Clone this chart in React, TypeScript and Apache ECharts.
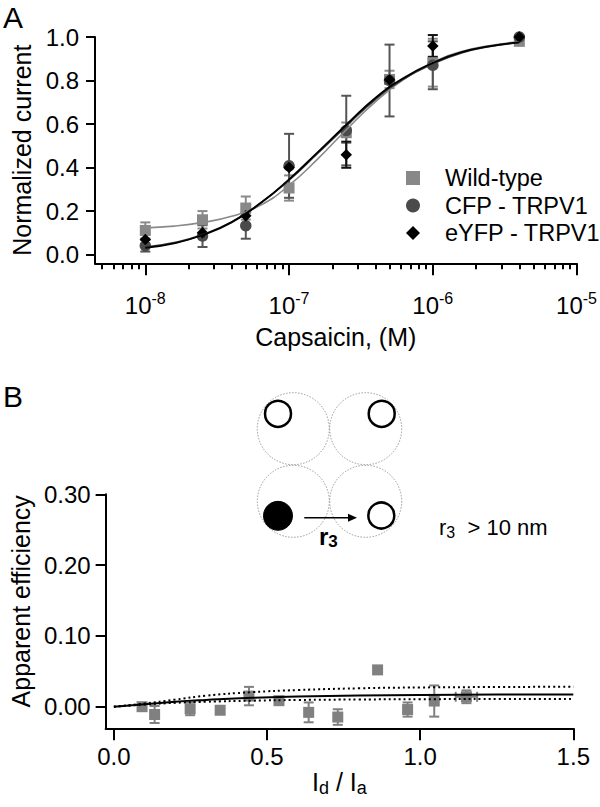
import React, { useEffect, useRef } from 'react';
import * as echarts from 'echarts';

// ---------- Panel A data ----------
const concentrations = [1e-8, 2.5e-8, 5e-8, 1e-7, 2.5e-7, 5e-7, 1e-6, 4e-6];
const wildMean = [0.111, 0.16, 0.214, 0.306, 0.56, 0.805, 0.882, 0.98];
const wildErr = [0.037, 0.04, 0.053, 0.058, 0.047, 0.04, 0.11, 0];
const cfpMean = [0.041, 0.085, 0.133, 0.408, 0.57, 0.8, 0.87, 1.0];
const cfpErr = [0.027, 0.05, 0.06, 0.147, 0.16, 0.165, 0.11, 0];
const eyfpMean = [0.069, 0.1, 0.179, 0.4, 0.459, 0.803, 0.959, 1.0];
const eyfpErr = [0, 0, 0, 0, 0.06, 0, 0.05, 0];

// fitted curves (log10 concentration)
const fitLogX = [-8, -7.8, -7.6, -7.4, -7.2, -7.0, -6.8, -6.6, -6.4, -6.2, -6.0, -5.8, -5.6, -5.4];
const fitWild = [0.123, 0.131, 0.148, 0.176, 0.226, 0.318, 0.44, 0.575, 0.702, 0.806, 0.883, 0.933, 0.961, 0.978];
const fitCfp = [0.034, 0.055, 0.092, 0.15, 0.236, 0.342, 0.466, 0.592, 0.713, 0.808, 0.877, 0.927, 0.957, 0.974];
const fitEyfp = [0.031, 0.052, 0.09, 0.148, 0.236, 0.346, 0.471, 0.598, 0.72, 0.813, 0.881, 0.93, 0.958, 0.975];

const majorTicksA = [-8, -7, -6, -5];
const minorTicksA = [
  Math.log10(5e-9), Math.log10(6e-9), Math.log10(7e-9), Math.log10(8e-9), Math.log10(9e-9),
  Math.log10(2e-8), Math.log10(3e-8), Math.log10(4e-8), Math.log10(5e-8), Math.log10(6e-8), Math.log10(7e-8), Math.log10(8e-8), Math.log10(9e-8),
  Math.log10(2e-7), Math.log10(3e-7), Math.log10(4e-7), Math.log10(5e-7), Math.log10(6e-7), Math.log10(7e-7), Math.log10(8e-7), Math.log10(9e-7),
  Math.log10(2e-6), Math.log10(3e-6), Math.log10(4e-6), Math.log10(5e-6), Math.log10(6e-6), Math.log10(7e-6), Math.log10(8e-6), Math.log10(9e-6),
];
const yTicksA = [0, 0.2, 0.4, 0.6, 0.8, 1.0];

// ---------- Panel B data ----------
const ratioB = [0.092, 0.133, 0.249, 0.347, 0.441, 0.539, 0.636, 0.731, 0.861, 0.959, 1.046, 1.151];
const effB = [0.0, -0.011, -0.003, -0.005, 0.015, 0.0085, -0.008, -0.0146, 0.052, -0.004, 0.008, 0.014];
const effErrB = [0, 0.012, 0.009, 0, 0.013, 0, 0.014, 0.011, 0, 0.01, 0.022, 0.009];
const ratioErrB = [0, 0, 0, 0, 0, 0, 0, 0, 0, 0, 0, 0.035];

const fitXB = [0, 0.1, 0.2, 0.3, 0.45, 0.6, 0.8, 1.0, 1.25, 1.5];
const fitMidB = [0, 0.0035, 0.007, 0.0095, 0.0125, 0.0143, 0.0158, 0.0166, 0.0171, 0.0174];
const fitUpB = [0, 0.0045, 0.01, 0.0155, 0.0205, 0.0235, 0.026, 0.0272, 0.0278, 0.0282];
const fitLowB = [0, 0.003, 0.0055, 0.007, 0.0085, 0.0095, 0.0102, 0.0106, 0.0109, 0.011];

const xTicksB = [0, 0.5, 1.0, 1.5];
const yTicksB = [0, 0.1, 0.2, 0.3];

const FONT = '"Liberation Sans", Arial, Helvetica, sans-serif';

function errRender(color: string, cap: number) {
  return (params: any, api: any) => {
    const x = api.value(0);
    const y = api.value(1);
    const ey = api.value(2);
    const ex = api.value(3) || 0;
    const children: any[] = [];
    const st = { stroke: color, lineWidth: 2 };
    if (ey) {
      const t = api.coord([x, y + ey]);
      const b = api.coord([x, y - ey]);
      children.push({ type: 'line', shape: { x1: t[0], y1: t[1], x2: b[0], y2: b[1] }, style: st });
      children.push({ type: 'line', shape: { x1: t[0] - cap, y1: t[1], x2: t[0] + cap, y2: t[1] }, style: st });
      children.push({ type: 'line', shape: { x1: b[0] - cap, y1: b[1], x2: b[0] + cap, y2: b[1] }, style: st });
    }
    if (ex) {
      const l = api.coord([x - ex, y]);
      const r = api.coord([x + ex, y]);
      children.push({ type: 'line', shape: { x1: l[0], y1: l[1], x2: r[0], y2: r[1] }, style: st });
      children.push({ type: 'line', shape: { x1: l[0], y1: l[1] - cap, x2: l[0], y2: l[1] + cap }, style: st });
      children.push({ type: 'line', shape: { x1: r[0], y1: r[1] - cap, x2: r[0], y2: r[1] + cap }, style: st });
    }
    return { type: 'group', children };
  };
}

const axisLineStyle = { color: '#000', width: 2 };

export default function App() {
  const ref = useRef<HTMLDivElement>(null);
  useEffect(() => {
    document.body.style.margin = '0';
    const chart = echarts.init(ref.current!, null, { renderer: 'svg' });
    const lx = concentrations.map((c) => Math.log10(c));
    const fitLine = (name: string, xi: number, yi: number, xs: number[], ys: number[], color: string, width: number, type: any = 'solid') => ({
      type: 'line', name, xAxisIndex: xi, yAxisIndex: yi, smooth: true, showSymbol: false, z: 4,
      lineStyle: { color, width, type },
      data: xs.map((x, i) => [x, ys[i]]),
    });
    const option: any = {
      animation: false,
      backgroundColor: '#fff',
      textStyle: { fontFamily: FONT },
      grid: [
        { left: 95, top: 37, right: 20, bottom: 543.7 },
        { left: 103.3, top: 494.3, right: 26.7, bottom: 78.7 },
      ],
      xAxis: [
        {
          gridIndex: 0, type: 'value', min: -8.35, max: -5, position: 'bottom',
          axisLine: { onZero: false, lineStyle: axisLineStyle },
          axisTick: { customValues: majorTicksA, length: 12, lineStyle: axisLineStyle },
          axisLabel: {
            customValues: majorTicksA, margin: 27,
            formatter: (v: number) => `{b|10}{s|${Math.round(v)}}`,
            rich: {
              b: { fontSize: 24, fontFamily: FONT, color: '#000' },
              s: { fontSize: 16, fontFamily: FONT, color: '#000', padding: [0, 0, 14, 0] },
            },
          },
          splitLine: { show: false },
          name: 'Capsaicin, (M)', nameLocation: 'middle', nameGap: 61,
          nameTextStyle: { fontSize: 25, color: '#000', fontFamily: FONT },
        },
        {
          gridIndex: 0, type: 'value', min: -8.35, max: -5, position: 'bottom',
          axisLine: { show: false, onZero: false },
          axisTick: { customValues: minorTicksA, length: 6, lineStyle: axisLineStyle },
          axisLabel: { show: false },
          splitLine: { show: false },
        },
        {
          gridIndex: 1, type: 'value', min: -0.027, max: 1.5, position: 'bottom',
          axisLine: { onZero: false, lineStyle: axisLineStyle },
          axisTick: { customValues: xTicksB, length: 12, lineStyle: axisLineStyle },
          axisLabel: {
            customValues: xTicksB, margin: 16, fontSize: 24, color: '#000', fontFamily: FONT,
            formatter: (v: number) => v.toFixed(1),
          },
          splitLine: { show: false },
          name: '{n|I}{d|d}{n| / I}{d|a}', nameLocation: 'middle', nameGap: 33,
          nameTextStyle: {
            rich: {
              n: { fontSize: 25, color: '#000', fontFamily: FONT },
              d: { fontSize: 18, color: '#000', fontFamily: FONT, padding: [12, 0, 0, 0] },
            },
          },
        },
      ],
      yAxis: [
        {
          gridIndex: 0, type: 'value', min: -0.04, max: 1.0,
          axisLine: { onZero: false, lineStyle: axisLineStyle },
          axisTick: { customValues: yTicksA, length: 9, lineStyle: axisLineStyle },
          axisLabel: {
            customValues: yTicksA, margin: 16, fontSize: 24, color: '#000', fontFamily: FONT,
            formatter: (v: number) => v.toFixed(1),
          },
          splitLine: { show: false },
          name: 'Normalized current', nameLocation: 'middle', nameGap: 61, nameRotate: 90,
          nameTextStyle: { fontSize: 25, color: '#000', fontFamily: FONT },
        },
        {
          gridIndex: 1, type: 'value', min: -0.0305, max: 0.3,
          axisLine: { onZero: false, lineStyle: axisLineStyle },
          axisTick: { customValues: yTicksB, length: 10, lineStyle: axisLineStyle },
          axisLabel: {
            customValues: yTicksB, margin: 15, fontSize: 24, color: '#000', fontFamily: FONT,
            formatter: (v: number) => v.toFixed(2),
          },
          splitLine: { show: false },
          name: 'Apparent efficiency', nameLocation: 'middle', nameGap: 70, nameRotate: 90,
          nameTextStyle: { fontSize: 25, color: '#000', fontFamily: FONT, padding: [0, 0, 0, 20] },
        },
      ],
      legend: {
        orient: 'vertical', left: 406, top: 166, padding: 0, itemGap: 3.5,
        itemWidth: 14, itemHeight: 14,
        data: [
          { name: 'Wild-type', icon: 'rect' },
          { name: 'CFP - TRPV1', icon: 'circle' },
          { name: 'eYFP - TRPV1', icon: 'diamond' },
        ],
        textStyle: { fontSize: 23.5, color: '#000', fontFamily: FONT, padding: [0, 0, 0, 20] },
      },
      series: [
        // error bars panel A
        {
          type: 'custom', name: 'wild-err', xAxisIndex: 0, yAxisIndex: 0, clip: false, z: 2,
          renderItem: errRender('#8a8a8a', 5), encode: { x: 0, y: 1 },
          data: lx.map((x, i) => [x, wildMean[i], wildErr[i], 0]),
        },
        {
          type: 'custom', name: 'cfp-err', xAxisIndex: 0, yAxisIndex: 0, clip: false, z: 2,
          renderItem: errRender('#555555', 5), encode: { x: 0, y: 1 },
          data: lx.map((x, i) => [x, cfpMean[i], cfpErr[i], 0]),
        },
        {
          type: 'custom', name: 'eyfp-err', xAxisIndex: 0, yAxisIndex: 0, clip: false, z: 2,
          renderItem: errRender('#111111', 5), encode: { x: 0, y: 1 },
          data: lx.map((x, i) => [x, eyfpMean[i], eyfpErr[i], 0]),
        },
        // markers panel A
        {
          type: 'scatter', name: 'Wild-type', xAxisIndex: 0, yAxisIndex: 0, symbol: 'rect', symbolSize: 11, z: 3,
          itemStyle: { color: '#888888', opacity: 1 },
          data: lx.map((x, i) => [x, wildMean[i]]),
        },
        {
          type: 'scatter', name: 'CFP - TRPV1', xAxisIndex: 0, yAxisIndex: 0, symbol: 'circle', symbolSize: 11.5, z: 3,
          itemStyle: { color: '#4a4a4a', opacity: 1 },
          data: lx.map((x, i) => [x, cfpMean[i]]),
        },
        {
          type: 'scatter', name: 'eYFP - TRPV1', xAxisIndex: 0, yAxisIndex: 0, symbol: 'diamond', symbolSize: 11.5, z: 3,
          itemStyle: { color: '#000000', opacity: 1 },
          data: lx.map((x, i) => [x, eyfpMean[i]]),
        },
        // fits panel A
        fitLine('wild-fit', 0, 0, fitLogX, fitWild, '#8a8a8a', 1.6),
        fitLine('cfp-fit', 0, 0, fitLogX, fitCfp, '#3a3a3a', 1.8),
        fitLine('eyfp-fit', 0, 0, fitLogX, fitEyfp, '#000000', 1.8),
        // panel B
        fitLine('fit-mid', 2, 1, fitXB, fitMidB, '#000', 2),
        fitLine('fit-up', 2, 1, fitXB, fitUpB, '#000', 2, [2, 3]),
        fitLine('fit-low', 2, 1, fitXB, fitLowB, '#000', 2, [2, 3]),
        {
          type: 'custom', name: 'b-err', xAxisIndex: 2, yAxisIndex: 1, clip: false, z: 2,
          renderItem: errRender('#808080', 5), encode: { x: 0, y: 1 },
          data: ratioB.map((x, i) => [x, effB[i], effErrB[i], ratioErrB[i]]),
        },
        {
          type: 'scatter', name: 'efficiency', xAxisIndex: 2, yAxisIndex: 1, symbol: 'rect', symbolSize: 11, z: 3,
          itemStyle: { color: '#808080', opacity: 1 },
          data: ratioB.map((x, i) => [x, effB[i]]),
        },
      ],
      graphic: [
        { type: 'text', x: 3, y: 2, style: { text: 'A', fontSize: 30, fontFamily: FONT, fill: '#000' } },
        { type: 'text', x: 3, y: 381, style: { text: 'B', fontSize: 30, fontFamily: FONT, fill: '#000' } },
        // dotted subunit circles
        { type: 'circle', shape: { cx: 293.3, cy: 428.7, r: 36 }, style: { fill: 'none', stroke: '#9a9a9a', lineWidth: 1, lineDash: [1.5, 1.5] } },
        { type: 'circle', shape: { cx: 365.7, cy: 428.7, r: 36 }, style: { fill: 'none', stroke: '#9a9a9a', lineWidth: 1, lineDash: [1.5, 1.5] } },
        { type: 'circle', shape: { cx: 293.3, cy: 501.3, r: 36 }, style: { fill: 'none', stroke: '#9a9a9a', lineWidth: 1, lineDash: [1.5, 1.5] } },
        { type: 'circle', shape: { cx: 365.7, cy: 501.3, r: 36 }, style: { fill: 'none', stroke: '#9a9a9a', lineWidth: 1, lineDash: [1.5, 1.5] } },
        // fluorophores
        { type: 'circle', shape: { cx: 278, cy: 413.8, r: 13 }, style: { fill: '#fff', stroke: '#000', lineWidth: 2.5 } },
        { type: 'circle', shape: { cx: 381.7, cy: 413.8, r: 13 }, style: { fill: '#fff', stroke: '#000', lineWidth: 2.5 } },
        { type: 'circle', shape: { cx: 278, cy: 515.8, r: 14.5 }, style: { fill: '#000', stroke: '#000', lineWidth: 1 } },
        { type: 'circle', shape: { cx: 381.3, cy: 515.5, r: 13 }, style: { fill: '#fff', stroke: '#000', lineWidth: 2.5 } },
        // arrow
        { type: 'line', shape: { x1: 304.3, y1: 517.7, x2: 350, y2: 517.7 }, style: { stroke: '#000', lineWidth: 1.5 } },
        { type: 'polygon', shape: { points: [[357, 517.7], [348, 513.7], [348, 521.7]] }, style: { fill: '#000' } },
        {
          type: 'text', x: 319, y: 536,
          style: {
            text: '{r|r}{s|3}', verticalAlign: 'middle',
            rich: {
              r: { fontSize: 24, fontWeight: 'bold', fontFamily: FONT, fill: '#000' },
              s: { fontSize: 17, fontWeight: 'bold', fontFamily: FONT, fill: '#000', padding: [11, 0, 0, 0] },
            },
          },
        },
        {
          type: 'text', x: 439, y: 527,
          style: {
            text: '{r|r}{s|3}{r|  > 10 nm}', verticalAlign: 'middle',
            rich: {
              r: { fontSize: 22, fontFamily: FONT, fill: '#000' },
              s: { fontSize: 16, fontFamily: FONT, fill: '#000', padding: [10, 0, 0, 0] },
            },
          },
        },
      ],
    };
    chart.setOption(option);
    return () => chart.dispose();
  }, []);
  return <div ref={ref} style={{ width: 600, height: 807 }} />;
}
